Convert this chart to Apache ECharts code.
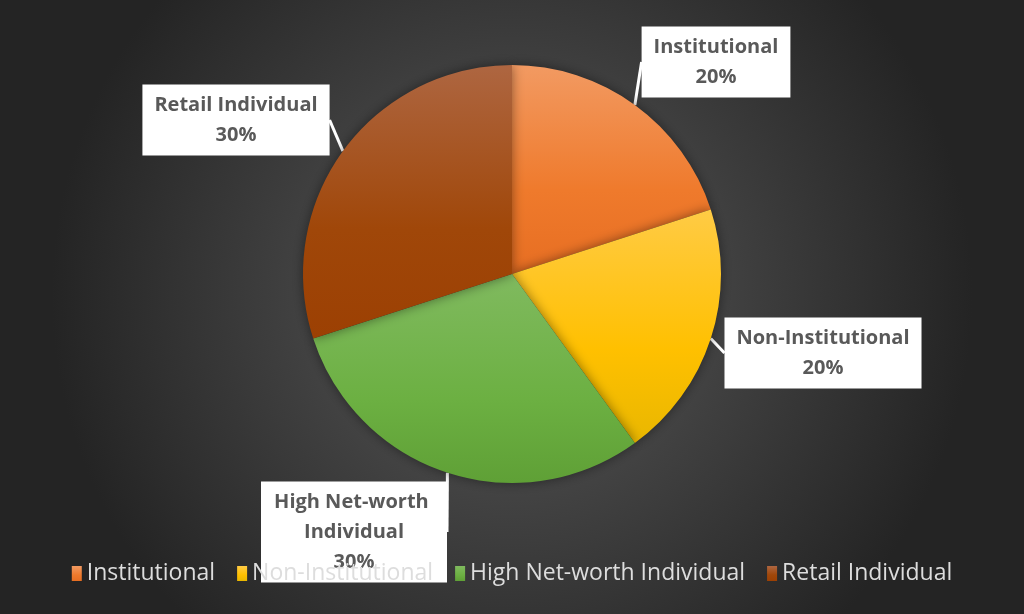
<!DOCTYPE html>
<html style="height: 100%">
<head>
    <meta charset="utf-8">
</head>
<body style="height: 100%; margin: 0; background-color: #333;">
<div id="container" style="width: 1024px; height: 614px;"></div>
<script type="text/javascript" src="https://cdn.jsdelivr.net/npm/echarts@6/dist/echarts.min.js"></script>
<script type="text/javascript">
var categories = ['Institutional', 'Non-Institutional', 'High Net-worth Individual', 'Retail Individual'];
var shares = [20, 20, 30, 30];

// top / middle / bottom colour of each slice
var sliceColors = [
    ['#F29A62', '#EF7A2C', '#E76E22'],
    ['#FFCB45', '#FFC000', '#E9B700'],
    ['#80BA5F', '#6CB042', '#5FA036'],
    ['#AE6641', '#A04709', '#9C4003']
];

// where the callout boxes sit (centre)
var calloutPos = [[716, 62], [823, 353], [354, 532], [236, 120]];

var chart = echarts.init(document.getElementById('container'));

var pieData = [];
for (var i = 0; i < categories.length; i++) {
    pieData.push({
        name: categories[i],
        value: shares[i],
        itemStyle: {
            color: new echarts.graphic.LinearGradient(0, 0, 0, 1, [
                {offset: 0, color: sliceColors[i][0]},
                {offset: 0.6, color: sliceColors[i][1]},
                {offset: 1, color: sliceColors[i][2]}
            ])
        },
        label: {
            width: i == 2 ? 162 : null,
            overflow: i == 2 ? 'break' : 'none'
        }
    });
}

var option = {
    backgroundColor: new echarts.graphic.RadialGradient(0.5, 0.48, 0.75, [
        {offset: 0, color: '#5A5A5A'},
        {offset: 1, color: '#242424'}
    ]),
    color: sliceColors.map(function (c) { return c[1]; }),
    legend: {
        bottom: 24,
        left: 'center',
        itemWidth: 10,
        itemHeight: 15,
        itemGap: 22,
        icon: 'rect',
        z: 10,
        textStyle: {
            color: '#DDDDDD',
            fontSize: 23,
            fontFamily: 'Open Sans'
        },
        data: categories
    },
    series: [{
        type: 'pie',
        center: [512, 274],
        radius: 209,
        startAngle: 90,
        clockwise: true,
        silent: true,
        itemStyle: {
            shadowBlur: 12,
            shadowColor: 'rgba(0,0,0,0.45)'
        },
        label: {
            show: true,
            formatter: '{b}\n{d}%',
            backgroundColor: '#FFFFFF',
            color: '#595959',
            fontSize: 20,
            fontWeight: 'bold',
            fontFamily: 'Open Sans',
            lineHeight: 30,
            padding: [6, 12, 5, 12],
            align: 'center'
        },
        labelLine: {
            show: true,
            length: 0,
            length2: 0,
            lineStyle: {
                color: '#FFFFFF',
                width: 3
            }
        },
        labelLayout: function (params) {
            var p = calloutPos[params.dataIndex];
            return {
                x: p[0],
                y: p[1],
                align: 'center',
                verticalAlign: 'middle'
            };
        },
        data: pieData
    }]
};

chart.setOption(option);
</script>
</body>
</html>
